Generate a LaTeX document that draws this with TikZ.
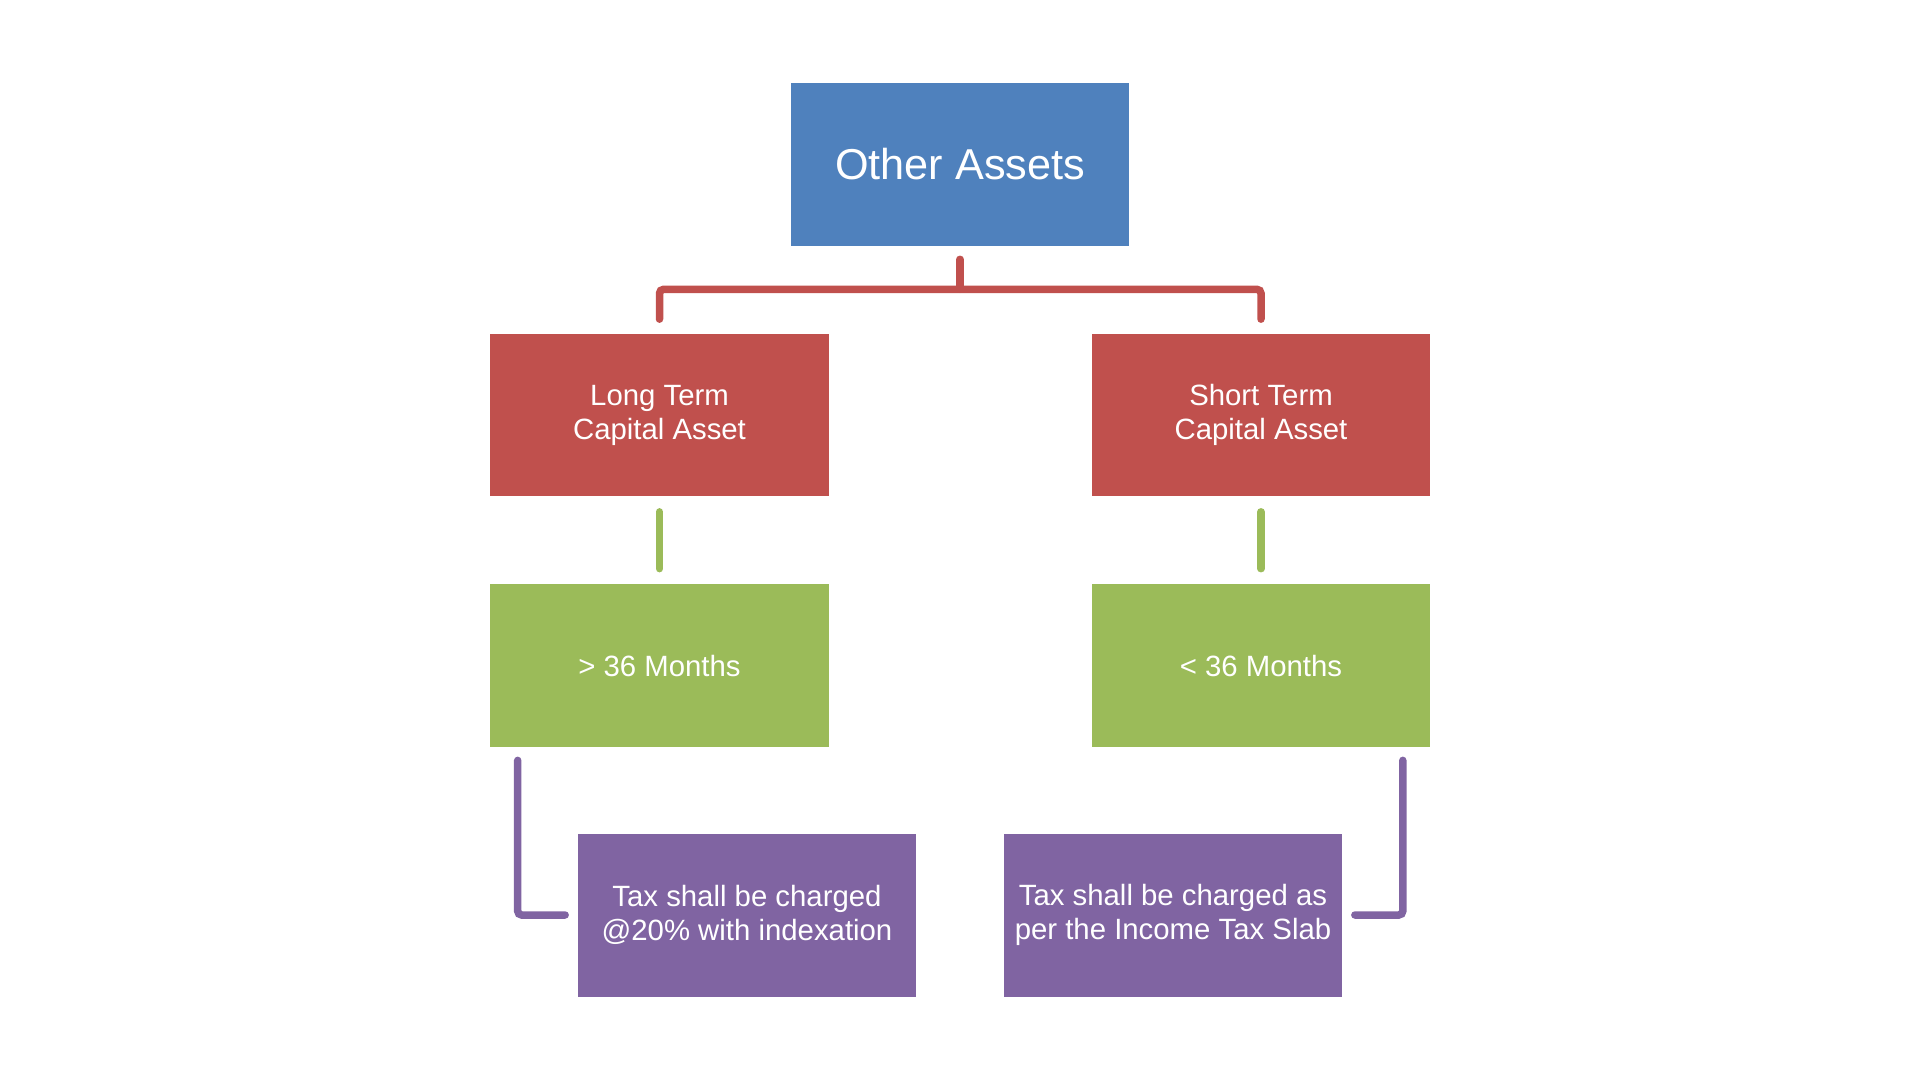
\documentclass[tikz,border=0pt]{standalone}
\usepackage{fontspec}
\setmainfont{Liberation Sans}
\usetikzlibrary{calc}

\definecolor{boxblue}{HTML}{4F81BD}
\definecolor{boxred}{HTML}{C0504D}
\definecolor{boxgreen}{HTML}{9BBB59}
\definecolor{boxpurple}{HTML}{8064A2}

\begin{document}
\begin{tikzpicture}[x=0.02cm, y=-0.02cm,
  box/.style={minimum width=6.78cm, minimum height=3.26cm, inner sep=0pt, text=white, align=center,
    font=\fontsize{16.7}{19.4}\selectfont},
  link/.style={line width=0.15cm, line cap=round, rounded corners=0.08cm}]

\useasboundingbox (0,0) rectangle (1920,1080);

% Entities
\node[box, fill=boxblue, font=\fontsize{24.6}{28}\selectfont] (top) at (960,164.5) {Other Assets};
\node[box, fill=boxred] (lt) at (659.5,415) {Long Term\\Capital Asset};
\node[box, fill=boxred] (st) at (1261,415) {Short Term\\Capital Asset};
\node[box, fill=boxgreen] (lg) at (659.5,665.5) {> 36 Months};
\node[box, fill=boxgreen] (sg) at (1261,665.5) {< 36 Months};
\node[box, fill=boxpurple] (lp) at (747,915) {Tax shall be charged\\@20\% with indexation};
\node[box, fill=boxpurple] (sp) at (1173,915) {Tax shall be charged as\\per the Income Tax Slab};

% Bracket from top
\draw[link, boxred] ($(top.south)+(0,13)$) -- ($(top.south)+(0,43)$);
\draw[link, boxred] ($(lt.north)+(0,-14)$) |- ($(top.south)+(0,43)$) -| ($(st.north)+(0,-14)$);

% Term to period
\draw[link, boxgreen] ($(lt.south)+(0,15)$) -- ($(lg.north)+(0,-15)$);
\draw[link, boxgreen] ($(st.south)+(0,15)$) -- ($(sg.north)+(0,-15)$);

% Period to tax
\draw[link, boxpurple] ($(lg.south west)+(28,13)$) |- ($(lp.west)+(-12,0)$);
\draw[link, boxpurple] ($(sg.south east)+(-28,13)$) |- ($(sp.east)+(12,0)$);

\end{tikzpicture}
\end{document}
